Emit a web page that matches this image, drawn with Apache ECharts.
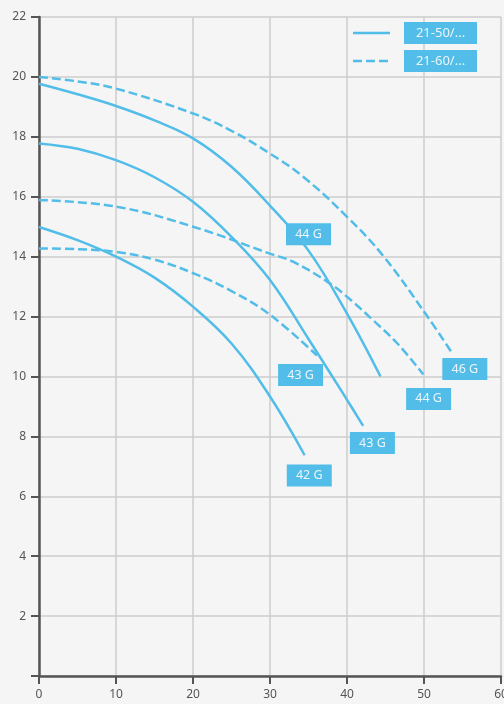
<!DOCTYPE html>
<html>
<head>
<meta charset="utf-8">
<script src="https://cdn.jsdelivr.net/npm/echarts@6/dist/echarts.min.js"></script>
<style>
html,body{margin:0;padding:0;background:#f5f5f5;}
#c{width:504px;height:704px;}
</style>
</head>
<body>
<div id="c"></div>
<script>
// Series names (legend)
var seriesA = '21-50/...';
var seriesB = '21-60/...';

// 21-50 (solid) curves: flow x, head y
var s42x = [0, 5, 10, 15, 20, 25, 30, 34.5];
var s42y = [14.99, 14.55, 14.0, 13.3, 12.33, 11.1, 9.33, 7.37];
var s43x = [0, 5, 10, 15, 20, 25, 30, 35, 40, 42.1];
var s43y = [17.78, 17.6, 17.22, 16.65, 15.83, 14.66, 13.22, 11.25, 9.22, 8.35];
var s44x = [0, 5, 10, 15, 20, 25, 30, 35, 40, 44.35];
var s44y = [19.77, 19.42, 19.03, 18.55, 17.95, 17.0, 15.7, 14.2, 12.1, 10.0];

// 21-60 (dashed) curves
var d43x = [0, 5, 10, 15, 20, 25, 30, 36.1];
var d43y = [14.27, 14.25, 14.16, 13.9, 13.45, 12.85, 12.06, 10.7];
var d44x = [0, 10, 20, 30, 33, 37.8, 40.5, 43.5, 46.55, 49.9];
var d44y = [15.89, 15.67, 15.0, 14.1, 13.83, 13.1, 12.55, 11.85, 11.1, 10.07];
var d46x = [0, 5, 10, 20, 25, 30, 34.35, 40, 44.78, 50.45, 53.6];
var d46y = [20.0, 19.85, 19.61, 18.78, 18.2, 17.44, 16.66, 15.33, 14.0, 12.0, 10.8];

// Curve annotation labels (data coordinates of label centre)
var labelText = ['44 G', '43 G', '43 G', '42 G', '44 G', '46 G'];
var labelX = [35.0, 33.97, 43.3, 35.1, 50.6, 55.3];
var labelY = [14.75, 10.05, 7.78, 6.69, 9.25, 10.25];

// Axis ticks
var xMin = 0, xMax = 60, xStep = 10;
var yMin = 0, yMax = 22, yStep = 2;

var BLUE = '#52bde8';
var AXIS = '#555555';
var FONT = 'Noto Sans';

function pairs(xs, ys) { return xs.map(function (x, i) { return [x, ys[i]]; }); }

function curve(name, xs, ys, dashed) {
  return {
    type: 'line', name: name, data: pairs(xs, ys), smooth: 0.4,
    symbol: 'none', showSymbol: false, z: 3,
    lineStyle: { color: BLUE, width: 2.5, type: dashed ? [9, 4] : 'solid' },
    itemStyle: { color: BLUE }
  };
}

var chart = echarts.init(document.getElementById('c'));
chart.setOption({
  backgroundColor: '#f5f5f5',
  animation: false,
  textStyle: { fontFamily: FONT },
  grid: { left: 39, right: 3, top: 17, bottom: 28, containLabel: false, outerBoundsMode: 'none' },
  legend: {
    data: [seriesA, seriesB],
    orient: 'vertical', right: 22, top: 17,
    itemWidth: 37, itemHeight: 14, itemGap: 6,
    itemStyle: { opacity: 0 },
    lineStyle: { width: 2.5 },
    formatter: function (n) { return '{g| }{b|' + n + '}'; },
    textStyle: {
      rich: {
        g: { width: 9 },
        b: { backgroundColor: BLUE, color: '#eaf6fb', fontSize: 13, fontFamily: FONT,
             width: 55, height: 14, align: 'center', padding: [4, 9, 4, 9] }
      }
    }
  },
  xAxis: {
    type: 'value', min: xMin, max: xMax, interval: xStep,
    axisLine: { lineStyle: { color: AXIS, width: 2.5 } },
    axisTick: { show: true, length: 8, lineStyle: { color: AXIS, width: 2 } },
    axisLabel: { color: AXIS, fontSize: 12, margin: 13, fontFamily: FONT },
    splitLine: { show: true, lineStyle: { color: '#cdcdcd', width: 1.5 } }
  },
  yAxis: {
    type: 'value', min: yMin, max: yMax, interval: yStep,
    axisLine: { show: true, lineStyle: { color: AXIS, width: 2.5 } },
    axisTick: { show: true, length: 8, lineStyle: { color: AXIS, width: 2 } },
    axisLabel: { color: AXIS, fontSize: 12, margin: 13, fontFamily: FONT,
                 formatter: function (v) { return v === 0 ? '' : String(v); } },
    splitLine: { show: true, lineStyle: { color: '#cdcdcd', width: 1.5 } }
  },
  series: [
    curve(seriesA, s42x, s42y, false),
    curve(seriesA, s43x, s43y, false),
    curve(seriesA, s44x, s44y, false),
    curve(seriesB, d43x, d43y, true),
    curve(seriesB, d44x, d44y, true),
    curve(seriesB, d46x, d46y, true),
    {
      type: 'scatter', name: 'labels', z: 5, clip: false,
      symbol: 'rect', symbolSize: [45, 22],
      itemStyle: { color: BLUE, opacity: 1 },
      label: { show: true, position: 'inside', formatter: '{b}', color: '#eaf6fb',
               fontSize: 12.5, fontFamily: FONT },
      emphasis: { disabled: true },
      data: labelText.map(function (t, i) { return { name: t, value: [labelX[i], labelY[i]] }; })
    }
  ]
});
</script>
</body>
</html>
